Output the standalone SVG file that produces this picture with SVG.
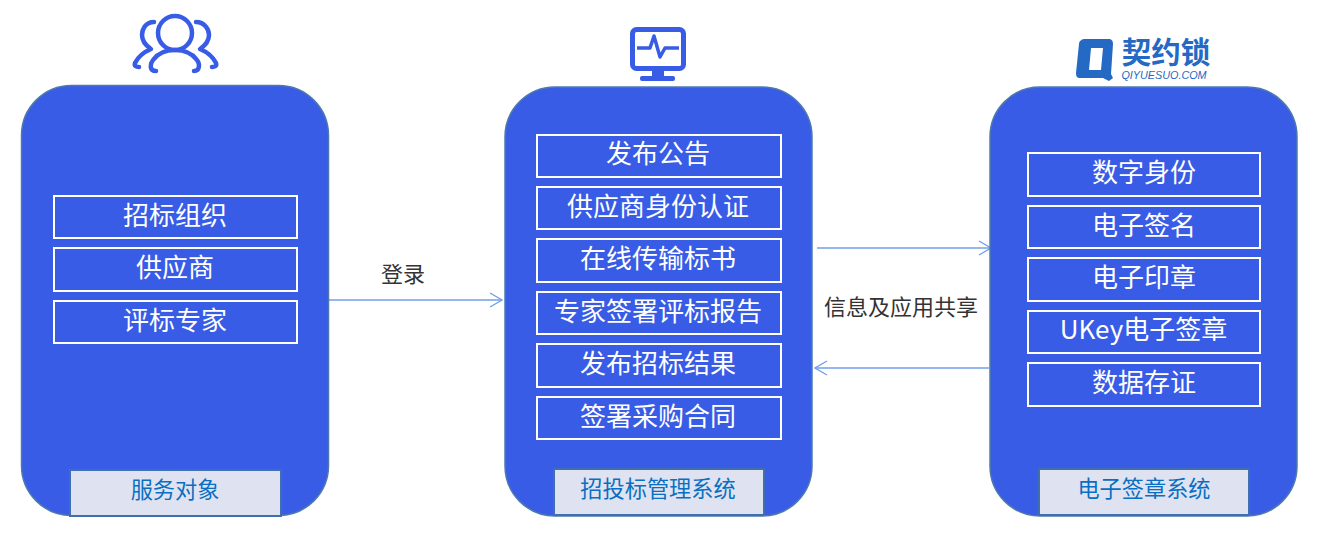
<svg xmlns="http://www.w3.org/2000/svg" width="1317" height="535" viewBox="0 0 1317 535">
<style>
text{font-family:"Noto Sans CJK SC","Noto Sans",sans-serif;text-anchor:middle}
.panel{fill:#385ce6;stroke:#4d79ad;stroke-width:1.5}
.item{fill:#385ce6;stroke:#fff;stroke-width:2}
.itemt{fill:#fff;font-size:26px}
.cap{fill:#dfe3f1;stroke:#3f6fae;stroke-width:2}
.capt{fill:#0a6fc2;font-size:22.200px}
.lab{fill:#333;font-size:22px}
.conn{fill:none;stroke:#6f9fe8;stroke-width:1.3}
.ico{fill:none;stroke:#385ce6;stroke-width:4.500;stroke-linecap:round;stroke-linejoin:round}
</style>
<defs>
<marker id="arr" markerWidth="14" markerHeight="16" refX="13" refY="8" orient="auto" markerUnits="userSpaceOnUse"><path d="M1 1 L13 8 L1 15" fill="none" stroke="#6f9fe8" stroke-width="1.3"/></marker>
</defs>
<g id="connectors">
<path class="conn" d="M329 300H502" marker-end="url(#arr)"/>
<path class="conn" d="M817 248H991" marker-end="url(#arr)"/>
<path class="conn" d="M989 368H815" marker-end="url(#arr)"/>
</g>
<g id="node-service">
<rect class="panel" x="21.500" y="85.500" width="307" height="430" rx="50" ry="50"/>
<rect class="item" x="54" y="196" width="243" height="42"/><text class="itemt" x="175" y="224.500">招标组织</text>
<rect class="item" x="54" y="248" width="243" height="43"/><text class="itemt" x="175" y="276.500">供应商</text>
<rect class="item" x="54" y="301" width="243" height="42"/><text class="itemt" x="175" y="329.500">评标专家</text>
<rect class="cap" x="70" y="470" width="211" height="46"/><text class="capt" x="175" y="498">服务对象</text>
</g>
<g id="icon-users">
<circle class="ico" cx="175" cy="33" r="17"/>
<path class="ico" d="M156 71C149 71 150 64 153 60C158 53 166 50 175 50C184 50 192 53 197 60C200 64 200 71 194 71"/>
<path class="ico" d="M154 22C145 22 142 30 142 35C142 41 145 45 151 49C144 52 138 57 135 63C134 66 136 67 139 67"/>
<path class="ico" d="M196 22C205 22 209 30 209 35C209 41 206 45 200 49C207 52 213 57 216 63C217 66 215 67 212 67"/>
</g>
<g id="node-bidding">
<rect class="panel" x="505" y="87" width="307" height="429" rx="50" ry="50"/>
<rect class="item" x="537" y="135" width="244" height="42"/><text class="itemt" x="658" y="162.500">发布公告</text>
<rect class="item" x="537" y="187" width="244" height="42"/><text class="itemt" x="658" y="215.500">供应商身份认证</text>
<rect class="item" x="537" y="239" width="244" height="43"/><text class="itemt" x="658" y="267.500">在线传输标书</text>
<rect class="item" x="537" y="292" width="244" height="42"/><text class="itemt" x="658" y="320.500">专家签署评标报告</text>
<rect class="item" x="537" y="344" width="244" height="43"/><text class="itemt" x="658" y="372.500">发布招标结果</text>
<rect class="item" x="537" y="397" width="244" height="42"/><text class="itemt" x="658" y="425.500">签署采购合同</text>
<rect class="cap" x="554" y="469" width="210" height="46"/><text class="capt" x="658" y="497">招投标管理系统</text>
</g>
<g id="icon-monitor">
<rect x="632.500" y="29.500" width="51" height="39" rx="4" fill="none" stroke="#385ce6" stroke-width="5"/>
<path d="M637 48H650L654 36L660 57L665 48H679" fill="none" stroke="#385ce6" stroke-width="3.500" stroke-linejoin="round"/>
<rect x="652" y="70" width="12" height="6" fill="#385ce6"/>
<rect x="640" y="76" width="35" height="5" rx="2" fill="#385ce6"/>
</g>
<g id="node-esign">
<rect class="panel" x="990" y="87" width="307" height="429" rx="50" ry="50"/>
<rect class="item" x="1028" y="153" width="232" height="43"/><text class="itemt" x="1144" y="181.500">数字身份</text>
<rect class="item" x="1028" y="206" width="232" height="42"/><text class="itemt" x="1144" y="234.500">电子签名</text>
<rect class="item" x="1028" y="258" width="232" height="43"/><text class="itemt" x="1144" y="286.500">电子印章</text>
<rect class="item" x="1028" y="311" width="232" height="42"/><text class="itemt" x="1143.500" y="338.500">UKey电子签章</text>
<rect class="item" x="1028" y="363" width="232" height="43"/><text class="itemt" x="1144" y="391.500">数据存证</text>
<rect class="cap" x="1039" y="469" width="210" height="46"/><text class="capt" x="1144" y="497">电子签章系统</text>
</g>
<g id="logo-qiyuesuo">
<path d="M1085 39H1108C1112 39 1113 41 1113 44L1111 74L1113 78L1109 81L1103 78H1080C1077 78 1076 76 1076 73L1079 44C1079 41 1082 39 1085 39ZM1091 48L1089 70H1101L1103 48Z" fill="#2469c4" fill-rule="evenodd"/>
<text x="1166" y="63" font-size="29.500" font-weight="700" fill="#2469c4">契约锁</text>
<text x="1164" y="79" font-size="10.800" style="font-family:'Liberation Sans',sans-serif;font-style:italic" fill="#2469c4">QIYUESUO.COM</text>
</g>
<text class="lab" x="403" y="282">登录</text>
<text class="lab" x="901" y="315">信息及应用共享</text>
</svg>
